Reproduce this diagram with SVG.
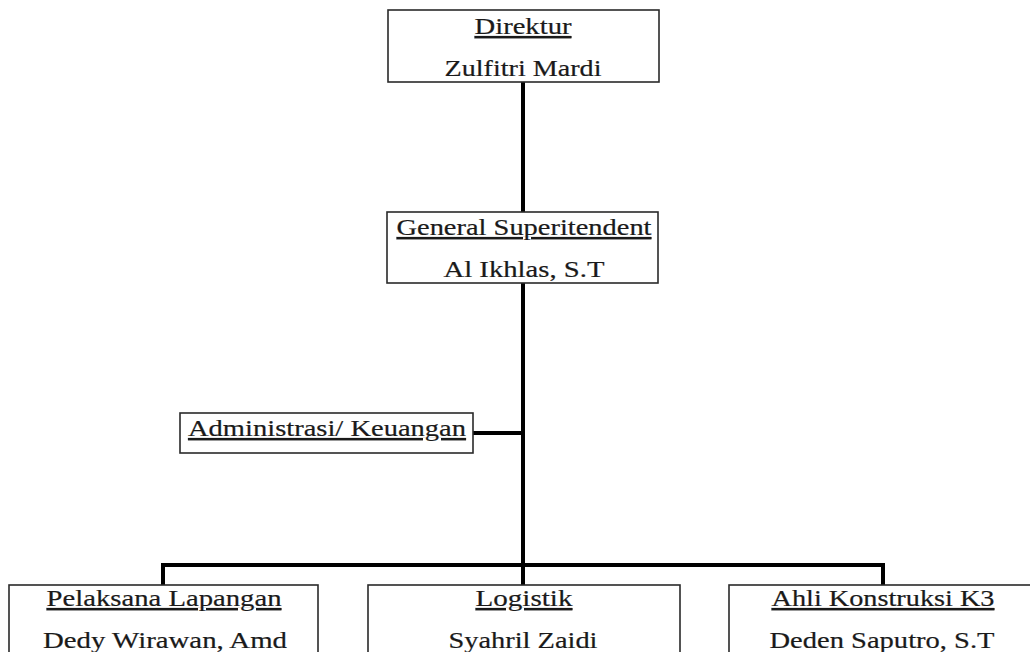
<svg xmlns="http://www.w3.org/2000/svg" width="1030" height="652" viewBox="0 0 1030 652">
<style>
.box{fill:#fff;stroke:#2a2a2a;stroke-width:1.6}
.t{font-family:"Liberation Serif","Times New Roman",serif;font-size:23px;fill:#1a1a1a;stroke:#1a1a1a;stroke-width:0.2;text-anchor:middle}
.u{text-decoration:underline}
.c{stroke:#000;stroke-width:4;fill:none;stroke-linecap:square}
</style>
<rect width="1030" height="652" fill="#fff"/>
<g id="connectors">
<line class="c" x1="523" y1="82" x2="523" y2="212"/>
<line class="c" x1="523" y1="284" x2="523" y2="565"/>
<line class="c" x1="474" y1="433" x2="523" y2="433"/>
<polyline class="c" points="163,585 163,565 883,565 883,585"/>
<line class="c" x1="523" y1="565" x2="523" y2="585"/>
</g>
<g id="direktur">
<rect class="box" x="388" y="10" width="271" height="72"/>
<text class="t u" x="523" y="34" textLength="97" lengthAdjust="spacingAndGlyphs">Direktur</text>
<text class="t" x="523" y="76" textLength="157" lengthAdjust="spacingAndGlyphs">Zulfitri Mardi</text>
</g>
<g id="general">
<rect class="box" x="387" y="212" width="271" height="71"/>
<text class="t u" x="524" y="235" textLength="255" lengthAdjust="spacingAndGlyphs">General Superitendent</text>
<text class="t" x="524" y="277" textLength="161" lengthAdjust="spacingAndGlyphs">Al Ikhlas, S.T</text>
</g>
<g id="admin">
<rect class="box" x="180" y="413" width="293" height="40"/>
<text class="t u" x="327" y="436" textLength="278" lengthAdjust="spacingAndGlyphs">Administrasi/ Keuangan</text>
</g>
<g id="pelaksana">
<rect class="box" x="9" y="585" width="309" height="80"/>
<text class="t u" x="164" y="606" textLength="235" lengthAdjust="spacingAndGlyphs">Pelaksana Lapangan</text>
<text class="t" x="165" y="648" textLength="244" lengthAdjust="spacingAndGlyphs">Dedy Wirawan, Amd</text>
</g>
<g id="logistik">
<rect class="box" x="368" y="585" width="312" height="80"/>
<text class="t u" x="524" y="606" textLength="97" lengthAdjust="spacingAndGlyphs">Logistik</text>
<text class="t" x="523" y="648" textLength="149" lengthAdjust="spacingAndGlyphs">Syahril Zaidi</text>
</g>
<g id="ahli">
<rect class="box" x="729" y="585" width="320" height="80"/>
<text class="t u" x="883" y="606" textLength="223" lengthAdjust="spacingAndGlyphs">Ahli Konstruksi K3</text>
<text class="t" x="882" y="648" textLength="225" lengthAdjust="spacingAndGlyphs">Deden Saputro, S.T</text>
</g>
</svg>
